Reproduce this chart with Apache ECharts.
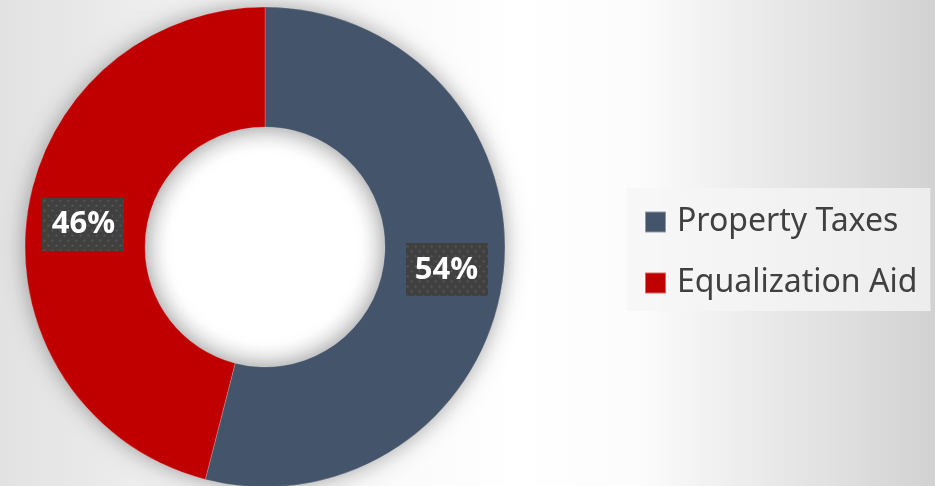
<!DOCTYPE html>
<html><head><meta charset="utf-8">
<script src="https://cdn.jsdelivr.net/npm/echarts@6/dist/echarts.min.js"></script>
<style>html,body{margin:0;padding:0;}#c{width:935px;height:486px;}</style>
</head><body><div id="c"></div>
<script>
const categories = ['Property Taxes', 'Equalization Aid'];
const values = [54, 46];
const colors = ['#44546A', '#C00000'];

function dotPattern(w, h) {
  const cv = document.createElement('canvas');
  cv.width = w; cv.height = h;
  const ctx = cv.getContext('2d');
  ctx.fillStyle = '#404040'; ctx.fillRect(0, 0, w, h);
  ctx.fillStyle = '#565656';
  let row = 0;
  for (let y = 2; y < h; y += 5, row++) for (let x = (row % 2 ? 5 : 1); x < w; x += 8) ctx.fillRect(x, y, 2, 2);
  return cv;
}
const boxImg = dotPattern(82, 53);

const chart = echarts.init(document.getElementById('c'));
chart.setOption({
  backgroundColor: {
    type: 'linear', x: 0, y: 0, x2: 1, y2: 0,
    colorStops: [{offset: 0, color: '#e2e2e2'}, {offset: 0.25, color: '#f4f4f4'}, {offset: 0.55, color: '#ffffff'}, {offset: 0.68, color: '#fcfcfc'}, {offset: 1, color: '#d2d2d2'}]
  },
  animation: false,
  graphic: [{
    type: 'circle', z: 0, silent: true,
    shape: {cx: 265, cy: 247, r: 121},
    style: {fill: {type: 'radial', x: 0.5, y: 0.5, r: 0.5,
      colorStops: [{offset: 0, color: '#ffffff'}, {offset: 0.8, color: '#ffffff'}, {offset: 1, color: '#ececec'}]}}
  }],
  legend: {
    orient: 'vertical', left: 627, top: 188,
    backgroundColor: 'rgba(245,245,245,0.75)',
    padding: [16, 13, 10, 17],
    itemWidth: 21, itemHeight: 21, itemGap: 25,
    icon: 'rect',
    textStyle: {fontFamily: 'Noto Sans', fontSize: 32, color: '#404040', lineHeight: 36, padding: [0, 0, 0, 6]},
    data: categories
  },
  series: [{
    type: 'pie',
    center: [265, 247],
    radius: [120, 240],
    silent: true,
    label: {show: false}, labelLine: {show: false},
    itemStyle: {color: '#bbbbbb', shadowBlur: 22, shadowColor: 'rgba(0,0,0,0.35)'},
    data: [{name: 'shadow', value: 1}]
  }, {
    type: 'pie',
    center: [265, 247],
    radius: [120, 240],
    startAngle: 90,
    clockwise: true,
    silent: true,
    itemStyle: {borderColor: 'rgba(255,255,255,0.4)', borderWidth: 0.5},
    label: {
      show: true, position: 'inside',
      formatter: p => p.value + '%',
      fontFamily: 'Open Sans', fontWeight: 'bold', fontSize: 31, color: '#ffffff',
      backgroundColor: {image: boxImg},
      width: 62, height: 33, align: 'center', verticalAlign: 'middle', lineHeight: 33,
      overflow: 'none',
      padding: [10, 10, 10, 10],
      shadowColor: 'rgba(0,0,0,0.45)', shadowBlur: 4, shadowOffsetX: 2, shadowOffsetY: 2,
      textShadowColor: 'transparent'
    },
    labelLine: {show: false},
    data: categories.map((c, i) => ({name: c, value: values[i], itemStyle: {color: colors[i]}}))
  }]
});
</script></body></html>
